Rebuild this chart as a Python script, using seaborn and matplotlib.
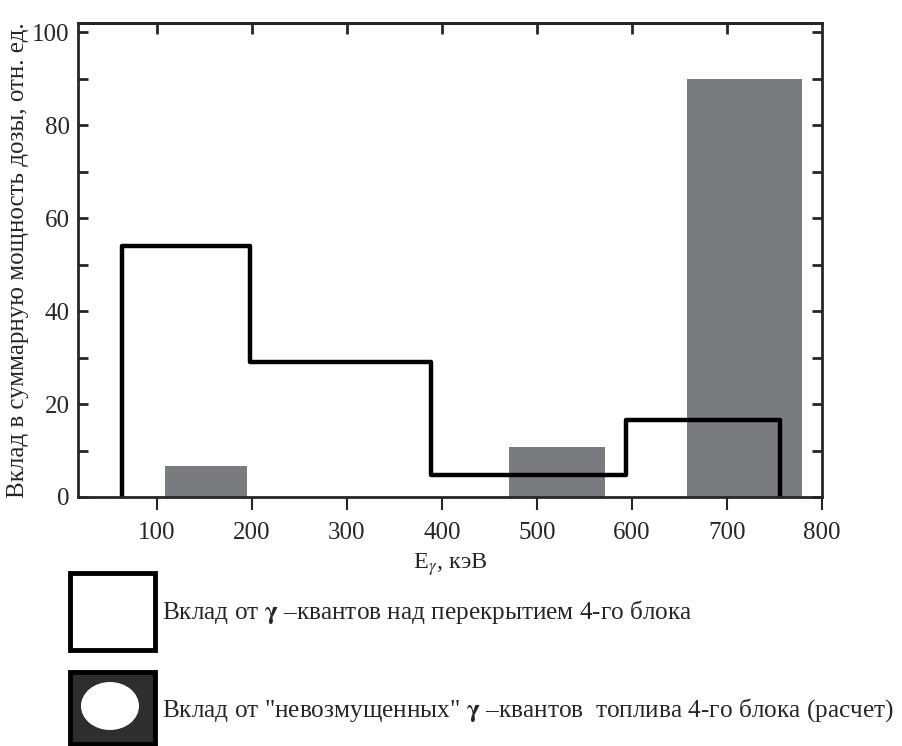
import numpy as np
import pandas as pd
import seaborn as sns
import matplotlib.pyplot as plt
from matplotlib.patches import Rectangle, Ellipse
from matplotlib.ticker import MultipleLocator

# step outline: contribution of gamma quanta above the unit 4 cover
step_edges = [63, 198, 389, 594, 756]
step_values = [54, 29, 4.7, 16.5]

# gray bars: "undisturbed" gamma quanta from unit 4 fuel (calculation)
bar_left = [109, 471, 658]
bar_right = [195, 572, 779]
bar_height = [6.7, 10.8, 90]

x_ticks = [100, 200, 300, 400, 500, 600, 700, 800]
y_ticks = [0, 20, 40, 60, 80, 100]

sns.set_style('ticks')
plt.rcParams['font.family'] = ['Liberation Serif', 'DejaVu Serif']
plt.rcParams['mathtext.fontset'] = 'stix'

fig = plt.figure(figsize=(9.03, 7.46), dpi=100)
ax = fig.add_axes([0.0864, 0.3338, 0.8239, 0.6354])

# bars through histplot with weights (gaps are empty bins)
bins = []
for l, r in zip(bar_left, bar_right):
    bins += [l, r]
centers = [(l + r) / 2 for l, r in zip(bar_left, bar_right)]
sns.histplot(x=centers, weights=bar_height, bins=bins, ax=ax,
             color='#7a7b7f', alpha=1, linewidth=0, shrink=1)

# step line
sx = [step_edges[0]] + step_edges[:-1] + [step_edges[-1], step_edges[-1]]
sy = [0] + step_values + [step_values[-1], 0]
df = pd.DataFrame({'x': sx, 'y': sy})
sns.lineplot(data=df, x='x', y='y', ax=ax, sort=False, estimator=None,
             drawstyle='steps-post', color='black', linewidth=3.2)

ax.set_xlim(17, 800)
ax.set_ylim(0, 102)
ax.set_xticks(x_ticks)
ax.set_yticks(y_ticks)
ax.yaxis.set_minor_locator(MultipleLocator(10))
ax.tick_params(axis='x', which='major', direction='out', length=9, width=1.5,
               top=False, labelsize=18, pad=9)
ax.tick_params(axis='y', which='both', direction='in', length=7, width=2,
               right=True, labelsize=18, pad=6)
top = ax.secondary_xaxis('top')
top.set_xticks(x_ticks[:-1])
top.tick_params(direction='in', length=8, width=2, labeltop=False)
for s in list(ax.spines.values()) + list(top.spines.values()):
    s.set_linewidth(2)
    s.set_visible(True)

ax.set_xlabel(r'E$_{\gamma}$, кэВ', fontsize=17.5, labelpad=5)
ax.set_ylabel('Вклад в суммарную мощность дозы, отн. ед.', fontsize=18)
ax.yaxis.set_label_coords(-0.066, 0.5)


def px(x, y, w, h):
    return (x / 903, 1 - (y + h) / 746, w / 903, h / 746)


x0, y0, w0, h0 = px(70, 573, 85, 77)
fig.add_artist(Rectangle((x0, y0), w0, h0, transform=fig.transFigure,
                         facecolor='white', edgecolor='black', linewidth=3.5))
fig.text(162 / 903, 1 - 612 / 746, 'Вклад от $\\mathbf{\\gamma}$ –квантов над перекрытием 4-го блока',
         fontsize=18.2, va='center', ha='left')

x1, y1, w1, h1 = px(70, 672, 85, 72)
fig.add_artist(Rectangle((x1, y1), w1, h1, transform=fig.transFigure,
                         facecolor='#2e2e2e', edgecolor='black', linewidth=3.5))
fig.add_artist(Ellipse((110 / 903, 1 - 706 / 746), 58 / 903, 48 / 746,
                       transform=fig.transFigure, facecolor='white', edgecolor='none'))
fig.text(162 / 903, 1 - 710 / 746,
         'Вклад от "невозмущенных" $\\mathbf{\\gamma}$ –квантов  топлива 4-го блока (расчет)',
         fontsize=18.2, va='center', ha='left')

fig.savefig('out.png', dpi=100)
